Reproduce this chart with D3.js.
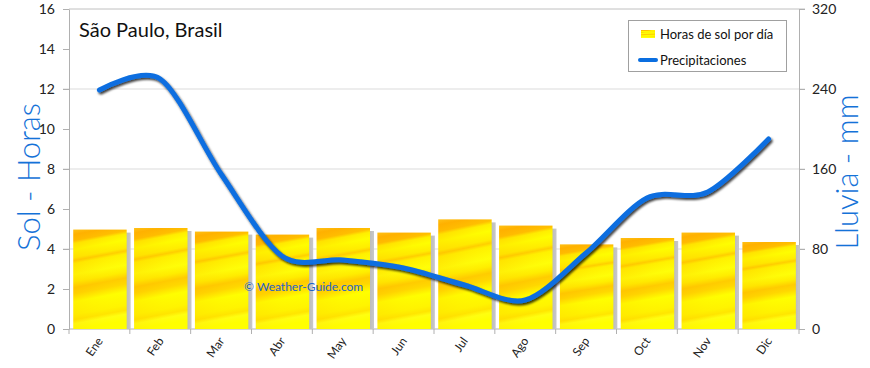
<!DOCTYPE html>
<html><head><meta charset="utf-8">
<script src="https://cdn.jsdelivr.net/npm/d3@7"></script>
<style>
html,body{margin:0;padding:0;background:#fff;}
svg{display:block;font-family:Lato, "Open Sans", sans-serif;}
</style></head>
<body>
<svg id="chart" width="870" height="368"></svg>
<script>
const months = ["Ene","Feb","Mar","Abr","May","Jun","Jul","Ago","Sep","Oct","Nov","Dic"];
const sunHours = [4.97, 5.05, 4.87, 4.72, 5.05, 4.82, 5.48, 5.17, 4.23, 4.55, 4.82, 4.35];
const rainMm = [239, 250, 155, 73, 69, 61, 44, 29, 76, 131, 137, 190];
const leftTicks = [0, 2, 4, 6, 8, 10, 12, 14, 16];
const rightTicks = [0, 80, 160, 240, 320];
const title = "São Paulo, Brasil";
const legendLabels = ["Horas de sol por día", "Precipitaciones"];

const svg = d3.select("#chart");
const m = {l: 69, r: 799, t: 9, b: 329};

const x = d3.scaleBand().domain(months).range([m.l, m.r]).padding(0);
const yL = d3.scaleLinear().domain([0, 16]).range([m.b, m.t]);
const yR = d3.scaleLinear().domain([0, 320]).range([m.b, m.t]);

const defs = svg.append("defs");
const g1 = defs.append("linearGradient").attr("id", "sunGrad")
  .attr("x1", 0).attr("y1", 0).attr("x2", 0.1).attr("y2", 1);
[[0, "#ffc81a"], [0.05, "#ffb400"], [0.11, "#ffc000"], [0.14, "#fff000"], [0.2, "#ffff00"],
 [0.28, "#ffee00"], [0.31, "#ffd000"], [0.34, "#fff200"], [0.45, "#ffff08"], [0.52, "#ffee00"],
 [0.58, "#ffcc00"], [0.64, "#ffd800"], [0.72, "#ffff00"], [0.85, "#fff400"], [0.9, "#ffe600"],
 [0.94, "#ffff10"], [1, "#ffff00"]]
  .forEach(([o, c]) => g1.append("stop").attr("offset", o).attr("stop-color", c));
const g2 = defs.append("linearGradient").attr("id", "streak")
  .attr("x1", 0).attr("y1", 0.3).attr("x2", 1).attr("y2", 0.7);
[[0, "#ffa000", 0.18], [0.5, "#ffa000", 0.05], [1, "#ffff00", 0]]
  .forEach(([o, c, a]) => g2.append("stop").attr("offset", o).attr("stop-color", c).attr("stop-opacity", a));
const shadowGrad = defs.append("linearGradient").attr("id", "shadowGrad")
  .attr("x1", 0).attr("y1", 0).attr("x2", 1).attr("y2", 0);
[[0, "#6e6e6e"], [0.6, "#8a8a8a"], [1, "#c8c8c8"]]
  .forEach(([o, c]) => shadowGrad.append("stop").attr("offset", o).attr("stop-color", c));
const f = defs.append("filter").attr("id", "lineShadow")
  .attr("x", "-5%").attr("y", "-5%").attr("width", "110%").attr("height", "120%");
f.append("feDropShadow").attr("dx", 1.5).attr("dy", 2).attr("stdDeviation", 1.2)
  .attr("flood-color", "#000").attr("flood-opacity", 0.75);

// gridlines
svg.append("g").selectAll("line").data([80, 160, 240]).join("line")
  .attr("x1", m.l - 6).attr("x2", m.r + 6)
  .attr("y1", d => yR(d)).attr("y2", d => yR(d))
  .attr("stroke", "#dcdcdc").attr("stroke-width", 1.2);
// top border
svg.append("line").attr("x1", m.l).attr("x2", m.r + 6).attr("y1", m.t).attr("y2", m.t)
  .attr("stroke", "#c0c0c0");

// axes
const axisStyle = g => {
  g.select(".domain").attr("stroke", "#b0b0b0");
  g.selectAll(".tick line").attr("stroke", "#b0b0b0");
  g.selectAll("text").attr("fill", "#222").style("font-size", "14px")
    .style("font-family", "Lato, sans-serif");
};
svg.append("g").attr("transform", `translate(${m.l},0)`)
  .call(d3.axisLeft(yL).tickValues(leftTicks).tickSize(6).tickPadding(8).tickSizeOuter(0))
  .call(axisStyle);
svg.append("g").attr("transform", `translate(${m.r},0)`)
  .call(d3.axisRight(yR).tickValues(rightTicks).tickSize(6).tickPadding(7).tickSizeOuter(0))
  .call(axisStyle);
const bandEdges = months.map(d => x(d)).concat([m.r]);
const xAxis = svg.append("g").attr("transform", `translate(0,${m.b})`);
xAxis.append("line").attr("x1", m.l).attr("x2", m.r).attr("stroke", "#b0b0b0");
xAxis.selectAll(".tk").data(bandEdges).join("line").attr("class", "tk")
  .attr("x1", d => d).attr("x2", d => d).attr("y1", 0).attr("y2", 5).attr("stroke", "#b0b0b0");
xAxis.selectAll("text").data(months).join("text")
  .attr("transform", d => `translate(${x(d) + x.bandwidth() / 2 + 4},${12}) rotate(-55)`)
  .attr("text-anchor", "end").attr("fill", "#222").style("font-size", "12px")
  .text(d => d);

// bars
const bw = x.bandwidth();
const bars = svg.append("g");
bars.selectAll(".shadow").data(months).join("rect").attr("class", "shadow")
  .attr("x", d => x(d) + bw * 0.07 + 4)
  .attr("y", (d, i) => yL(sunHours[i]) + 3)
  .attr("width", bw * 0.878)
  .attr("height", (d, i) => yL(0) - yL(sunHours[i]) - 3)
  .attr("fill", "url(#shadowGrad)");
bars.selectAll(".bar").data(months).join("rect").attr("class", "bar")
  .attr("x", d => x(d) + bw * 0.07)
  .attr("y", (d, i) => yL(sunHours[i]))
  .attr("width", bw * 0.878)
  .attr("height", (d, i) => yL(0) - yL(sunHours[i]))
  .attr("fill", "url(#sunGrad)");
bars.selectAll(".streak").data(months).join("rect").attr("class", "streak")
  .attr("x", d => x(d) + bw * 0.07)
  .attr("y", (d, i) => yL(sunHours[i]))
  .attr("width", bw * 0.878)
  .attr("height", (d, i) => yL(0) - yL(sunHours[i]))
  .attr("fill", "url(#streak)");

// watermark
svg.append("text").attr("x", 244).attr("y", 291).attr("fill", "#1e64c8")
  .style("font-size", "12px").text("© Weather-Guide.com");

// line
const line = d3.line()
  .x((d, i) => x(months[i]) + bw / 2)
  .y(d => yR(d))
  .curve(d3.curveCardinal.tension(0.1));
svg.append("path").datum(rainMm).attr("d", line)
  .attr("fill", "none").attr("stroke", "#0a6ee0").attr("stroke-width", 5)
  .attr("stroke-linecap", "round").attr("filter", "url(#lineShadow)");

// title
svg.append("text").attr("x", 79).attr("y", 37).attr("fill", "#111")
  .style("font-size", "20px").text(title);

// axis titles
svg.append("text").attr("transform", `translate(40,177) rotate(-90)`)
  .attr("text-anchor", "middle").attr("fill", "#1472d8").style("font-weight", 300)
  .style("font-size", "31px").text("Sol - Horas");
svg.append("text").attr("transform", `translate(858,172) rotate(-90)`)
  .attr("text-anchor", "middle").attr("fill", "#1472d8").style("font-weight", 300)
  .style("font-size", "31px").text("Lluvia - mm");

// legend
const lg = svg.append("g");
lg.append("rect").attr("x", 628.5).attr("y", 20.5).attr("width", 158).attr("height", 51)
  .attr("fill", "#fff").attr("stroke", "#a0a0a0");
lg.append("rect").attr("x", 641).attr("y", 30).attr("width", 14).attr("height", 8)
  .attr("fill", "url(#sunGrad)");
lg.append("line").attr("x1", 640).attr("x2", 656).attr("y1", 60).attr("y2", 60)
  .attr("stroke", "#0a6ee0").attr("stroke-width", 4).attr("stroke-linecap", "round");
lg.selectAll(".lt").data(legendLabels).join("text").attr("class", "lt")
  .attr("x", 660).attr("y", (d, i) => 39 + i * 26).attr("fill", "#111")
  .style("font-size", "13px").text(d => d);
</script>
</body></html>
